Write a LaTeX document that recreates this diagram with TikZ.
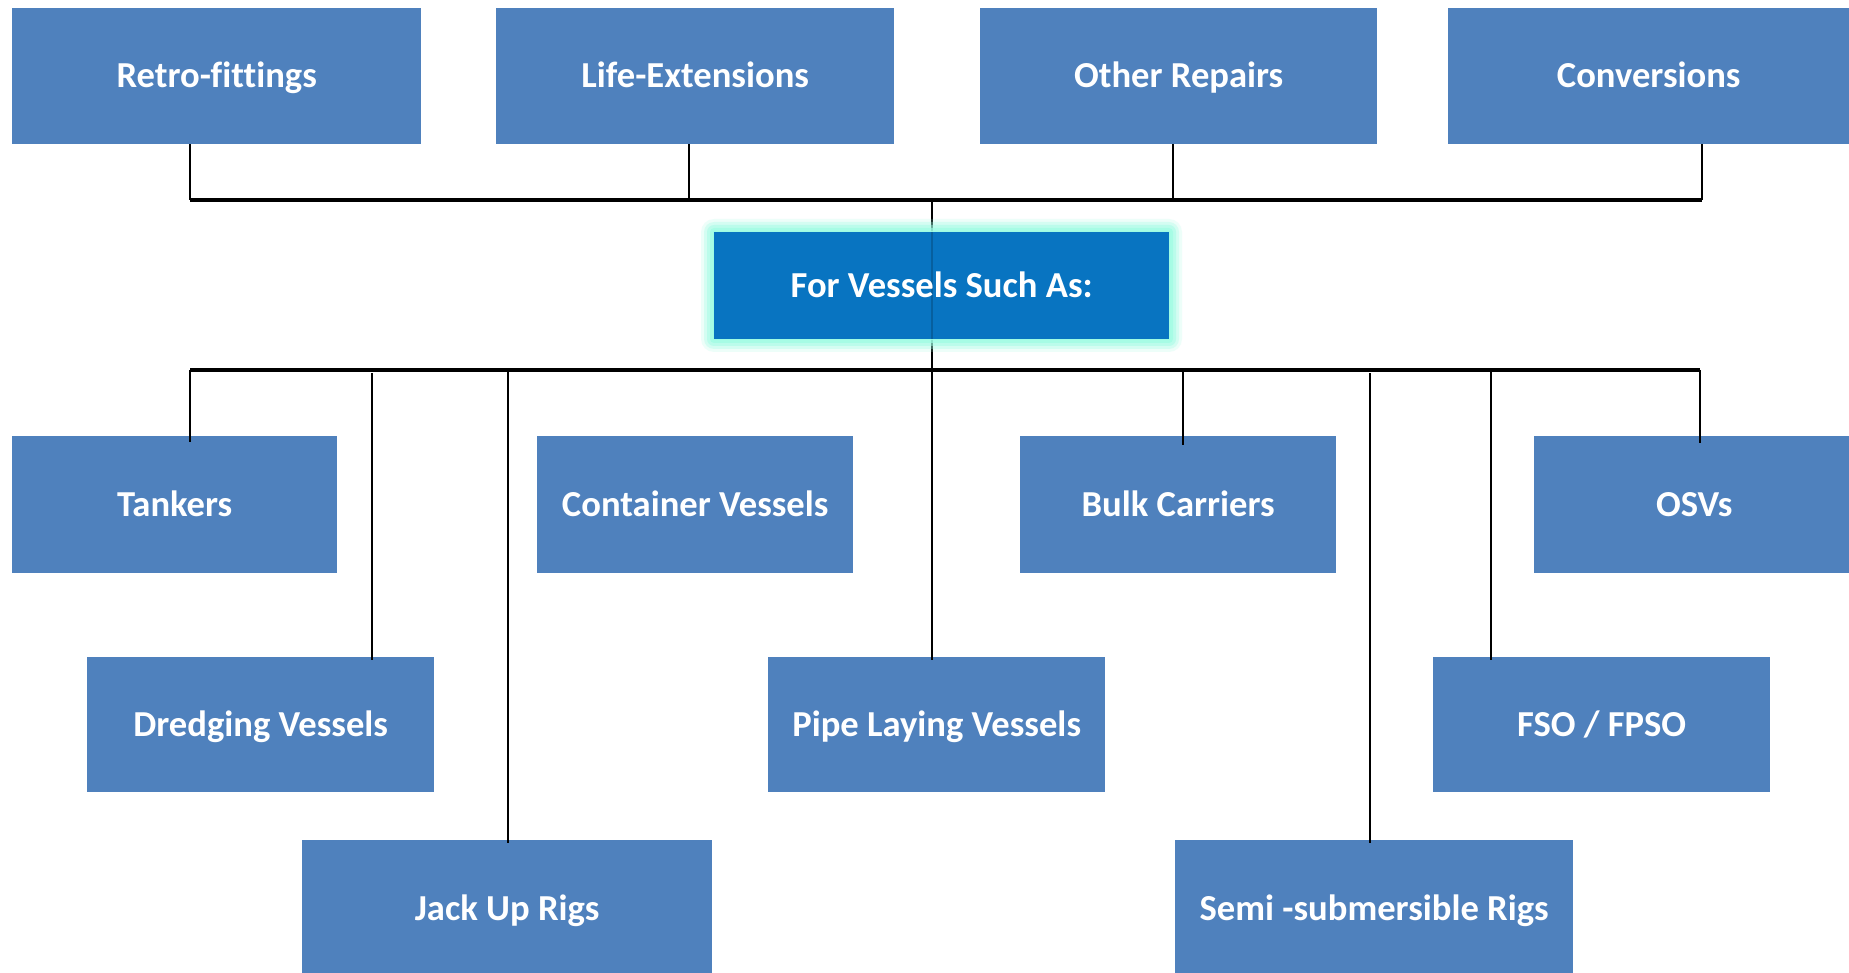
\documentclass[tikz,border=0pt]{standalone}
\usepackage{fontspec}
\setmainfont{Carlito}[Ligatures=NoCommon]
\definecolor{boxblue}{HTML}{4F81BD}
\definecolor{centerblue}{HTML}{0874C1}
\definecolor{glowcol}{HTML}{9DFCE3}
\begin{document}
\begin{tikzpicture}[x=1pt,y=-1pt,
  box/.style={fill=boxblue, text=white, font=\fontsize{36.6}{44}\selectfont\bfseries, inner sep=0pt, anchor=north west, text height=23.6pt, text depth=0pt},
  link/.style={draw=black, line width=2.6pt},
  bus/.style={draw=black, line width=3.1pt},
  hub/.style={fill=centerblue, text=white, font=\fontsize{36.6}{44}\selectfont\bfseries, inner sep=0pt, anchor=north west, text height=23.6pt, text depth=0pt}]
\useasboundingbox (0,0) rectangle (1849,973);
\fill[white] (0,0) rectangle (1849,973);

% top row
\node[box, minimum width=409pt, minimum height=136pt] (retro) at (12,8) {Retro-fittings};
\node[box, minimum width=398pt, minimum height=136pt] (life) at (496,8) {Life-Extensions};
\node[box, minimum width=397pt, minimum height=136pt] (other) at (980,8) {Other Repairs};
\node[box, minimum width=401pt, minimum height=136pt] (conv) at (1448,8) {Conversions};

% row 1
\node[box, minimum width=325pt, minimum height=137pt] (tank) at (12,436) {Tankers};
\node[box, minimum width=316pt, minimum height=137pt] (cont) at (537,436) {Container Vessels};
\node[box, minimum width=316pt, minimum height=137pt] (bulk) at (1020,436) {Bulk Carriers};
\node[box, minimum width=320pt, minimum height=137pt] (osv) at (1534,436) {OSVs};
% row 2
\node[box, minimum width=347pt, minimum height=135pt] (dredge) at (87,657) {Dredging Vessels};
\node[box, minimum width=337pt, minimum height=135pt] (pipe) at (768,657) {Pipe Laying Vessels};
\node[box, minimum width=337pt, minimum height=135pt] (fso) at (1433,657) {FSO / FPSO};
% row 3
\node[box, minimum width=410pt, minimum height=137pt] (jack) at (302,840) {Jack Up Rigs};
\node[box, minimum width=398pt, minimum height=137pt] (semi) at (1175,840) {Semi -submersible Rigs};

% coordinates on the bus lines
\coordinate (t1) at (190,200);
\coordinate (t2) at (689,200);
\coordinate (t3) at (1173,200);
\coordinate (t4) at (1702,200);
\coordinate (tc) at (932,200);
\coordinate (b1) at (190,370);
\coordinate (b2) at (372,370);
\coordinate (b3) at (508,370);
\coordinate (bc) at (932,370);
\coordinate (b5) at (1183,370);
\coordinate (b6) at (1370,370);
\coordinate (b7) at (1491,370);
\coordinate (b8) at (1700,370);

% centre line (drawn under the hub box)
\draw[link, line width=2.4pt] (tc) -- (bc);

% hub with glow
\foreach \g/\o in {13/0.18,10/0.3,7/0.45,4/0.65,1/0.85}{
  \fill[glowcol, opacity=\o, rounded corners=\g pt] (714-\g,232-\g) rectangle (1169+\g,339+\g);
}
\node[hub, minimum width=455pt, minimum height=107pt] (hubnode) at (714,232) {};
\draw[black, opacity=0.18, line width=2.4pt] (hubnode.north -| tc) -- (hubnode.south -| tc);
\node[text=white, font=\fontsize{36.6}{44}\selectfont\bfseries, inner sep=0pt, text height=23.6pt, text depth=0pt] (hublabel) at (hubnode.center) {For Vessels Such As:};

% top connectors
\draw[link] (retro.south -| t1) -- (t1);
\draw[link] (conv.south -| t4) -- (t4);
\draw[link] (life.south -| t2) -- (t2);
\draw[link] (other.south -| t3) -- (t3);
\draw[bus] (t1) -- (t4);

% bottom bus
\draw[bus] (b1) -- (b8);
\draw[link] (b1) -- ([yshift=-6pt]tank.north -| b1);
\draw[link] ([yshift=-3pt]b2) -- ([yshift=-3pt]dredge.north -| b2);
\draw[link] (b3) -- ([yshift=-3pt]jack.north -| b3);
\draw[link] (bc) -- ([yshift=-3pt]pipe.north -| bc);
\draw[link] (b5) -- ([yshift=-9pt]bulk.north -| b5);
\draw[link] ([yshift=-3pt]b6) -- ([yshift=-3pt]semi.north -| b6);
\draw[link] (b7) -- ([yshift=-3pt]fso.north -| b7);
\draw[link] (b8) -- ([yshift=-7pt]osv.north -| b8);
\end{tikzpicture}
\end{document}
